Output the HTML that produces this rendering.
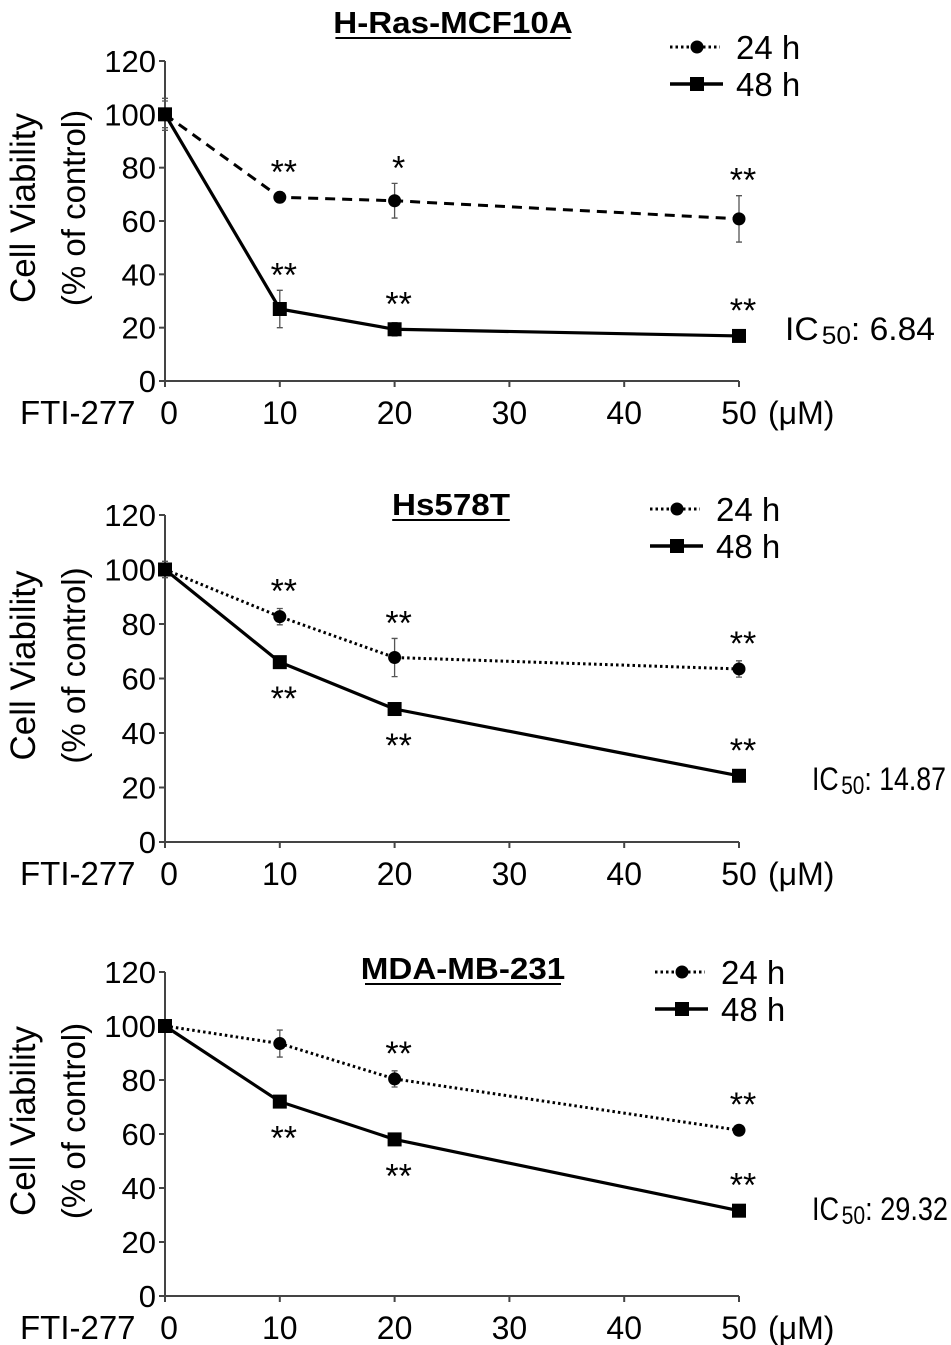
<!DOCTYPE html>
<html><head><meta charset="utf-8"><style>
body{margin:0;background:#fff;width:951px;height:1345px;overflow:hidden}
svg{display:block;font-family:"Liberation Sans",Arial,sans-serif}
</style></head><body>
<svg id="fig" width="951" height="1345" viewBox="0 0 951 1345"></svg>
<script>
const xValues=[0,10,20,50];
const xTicks=[0,10,20,30,40,50];
const yTicks=[0,20,40,60,80,100,120];
const titles=["H-Ras-MCF10A","Hs578T","MDA-MB-231"];
const ic50=["6.84","14.87","29.32"];
const v24_p1=[100,68.9,67.6,60.8], e24_p1=[6,2,6.5,8.7];
const v48_p1=[100,27,19.4,16.9], e48_p1=[5,7,2.5,1];
const v24_p2=[100,82.7,67.7,63.5], e24_p2=[3,3,7,3];
const v48_p2=[100,66,48.8,24.3], e48_p2=[2,1,1,1];
const v24_p3=[100,93.5,80.4,61.4], e24_p3=[2,5,3,1];
const v48_p3=[100,72,58,31.6], e48_p3=[1,2,1,1];
const stars24_p1=["","**","*","**"], stars48_p1=["","**","**","**"];
const stars24_p2=["","**","**","**"], stars48_p2=["","-**","-**","**"];
const stars24_p3=["","","**","**"], stars48_p3=["","-**","-**","**"];

const panels=[
 {y0:381,y120:61,title:titles[0],ic:ic50[0],v24:v24_p1,e24:e24_p1,v48:v48_p1,e48:e48_p1,s24:stars24_p1,s48:stars48_p1,dash:"10,7",legX:670,legY:47,icX:785,icY:340,icW:150,titleX:453,titleY:33},
 {y0:842,y120:515,title:titles[1],ic:ic50[1],v24:v24_p2,e24:e24_p2,v48:v48_p2,e48:e48_p2,s24:stars24_p2,s48:stars48_p2,dash:"2.5,3",legX:650,legY:509,icX:812,icY:790,icW:134,titleX:451,titleY:515},
 {y0:1296,y120:972,title:titles[2],ic:ic50[2],v24:v24_p3,e24:e24_p3,v48:v48_p3,e48:e48_p3,s24:stars24_p3,s48:stars48_p3,dash:"2.5,3",legX:655,legY:972,icX:812,icY:1220,icW:136,titleX:463,titleY:979}
];
const NS="http://www.w3.org/2000/svg";
const svg=document.getElementById('fig');
function mk(tag,attrs,parent,text){const e=document.createElementNS(NS,tag);for(const k in attrs)e.setAttribute(k,attrs[k]);if(text!==undefined)e.textContent=text;parent.appendChild(e);return e;}
const X0=165,X50=739;
function sx(v){return X0+(X50-X0)*v/50;}
panels.forEach((p,pi)=>{
 const sy=v=>p.y0+(p.y120-p.y0)*v/120;
 const g=mk('g',{},svg);
 
 
 const t=mk('text',{transform:`translate(${p.titleX},${p.titleY}) scale(1.07,1)`,'font-size':31,'font-weight':'bold','text-anchor':'middle'},g,p.title);
 
 
 const tw=p.title.length*19.6;
 mk('line',{x1:p.titleX-tw/2,x2:p.titleX+tw/2,y1:p.titleY+5,y2:p.titleY+5,stroke:'#000','stroke-width':2},g);
 const ax=mk('path',{d:`M${X0} ${p.y120}V${p.y0}H${X50}`,stroke:'#444','stroke-width':2,fill:'none'},g);
 
 
 yTicks.forEach(v=>{
  mk('line',{x1:X0-6,x2:X0,y1:sy(v),y2:sy(v),stroke:'#444','stroke-width':2},g);
  const l=mk('text',{x:X0-9,y:sy(v)+11,'font-size':31,'text-anchor':'end'},g,v);
  
  
 });
 xTicks.forEach(v=>{
  mk('line',{x1:sx(v),x2:sx(v),y1:p.y0,y2:p.y0+6,stroke:'#444','stroke-width':2},g);
  const l=mk('text',{x:sx(v)+(v===0?4:0),y:p.y0+43,'font-size':32,'text-anchor':'middle'},g,v);
  
  
 });
 const f=mk('text',{x:20,y:p.y0+43,'font-size':33},g,'FTI-277');
 
 
 const u=mk('text',{x:768,y:p.y0+43,'font-size':32},g,'(μM)');
 
 
 const cy=(p.y0+p.y120)/2-13;
 const yt=mk('text',{transform:`translate(35,${cy}) rotate(-90)`,'font-size':35,'text-anchor':'middle'},g,'Cell Viability');
 
 
 const yt2=mk('text',{transform:`translate(85,${cy}) rotate(-90)`,'font-size':33,'text-anchor':'middle'},g,'(% of control)');
 
 
 [[p.v24,p.e24,p.dash,'circle',p.s24],[p.v48,p.e48,null,'square',p.s48]].forEach(([vals,errs,dash,shape,stars],si)=>{
  const pts=xValues.map((x,i)=>sx(x)+','+sy(vals[i])).join(' ');
  const ln=mk('polyline',{points:pts,fill:'none',stroke:'#000','stroke-width':dash?3:3.2},g);
  if(dash)ln.setAttribute('stroke-dasharray',dash);
  
  
  xValues.forEach((x,i)=>{
   const cx=sx(x),yy=sy(vals[i]),e=errs[i];
   const top=sy(vals[i]+e),bot=sy(vals[i]-e);
   mk('path',{d:`M${cx} ${top}V${bot}M${cx-3} ${top}H${cx+3}M${cx-3} ${bot}H${cx+3}`,stroke:'#555','stroke-width':1.3,fill:'none'},g);
   let m;
   if(shape==='circle')m=mk('circle',{cx:cx,cy:yy,r:6.5,fill:'#000'},g);
   else m=mk('rect',{x:cx-7,y:yy-7,width:14,height:14,fill:'#000'},g);
   
   
   let s=stars[i];
   if(s){
    const below=s[0]==='-';s=s.replace('-','');
    const sty=below?yy+48:Math.min(top,yy-10)-4;
    const st=mk('text',{x:cx+4,y:sty,'font-size':34,'text-anchor':'middle'},g,s);
    
    
   }
  });
 });
 const lg=mk('g',{},g);
 
 
 mk('line',{x1:p.legX,x2:p.legX+50,y1:p.legY,y2:p.legY,stroke:'#000','stroke-width':3,'stroke-dasharray':'2.5,3'},lg);
 mk('circle',{cx:p.legX+27,cy:p.legY,r:6.5},lg);
 mk('text',{x:p.legX+66,y:p.legY+12,'font-size':33},lg,'24 h');
 mk('line',{x1:p.legX,x2:p.legX+53,y1:p.legY+37,y2:p.legY+37,stroke:'#000','stroke-width':3.5},lg);
 mk('rect',{x:p.legX+20,y:p.legY+30,width:14,height:14},lg);
 mk('text',{x:p.legX+66,y:p.legY+49,'font-size':33},lg,'48 h');
 const ic=mk('text',{x:p.icX,y:p.icY,'font-size':32,textLength:p.icW,lengthAdjust:'spacingAndGlyphs'},g);
 
 
 mk('tspan',{},ic,'IC');
 mk('tspan',{'font-size':25,dx:3,dy:4},ic,'50');
 mk('tspan',{dy:-4},ic,': '+p.ic);
});
</script>
</body></html>
